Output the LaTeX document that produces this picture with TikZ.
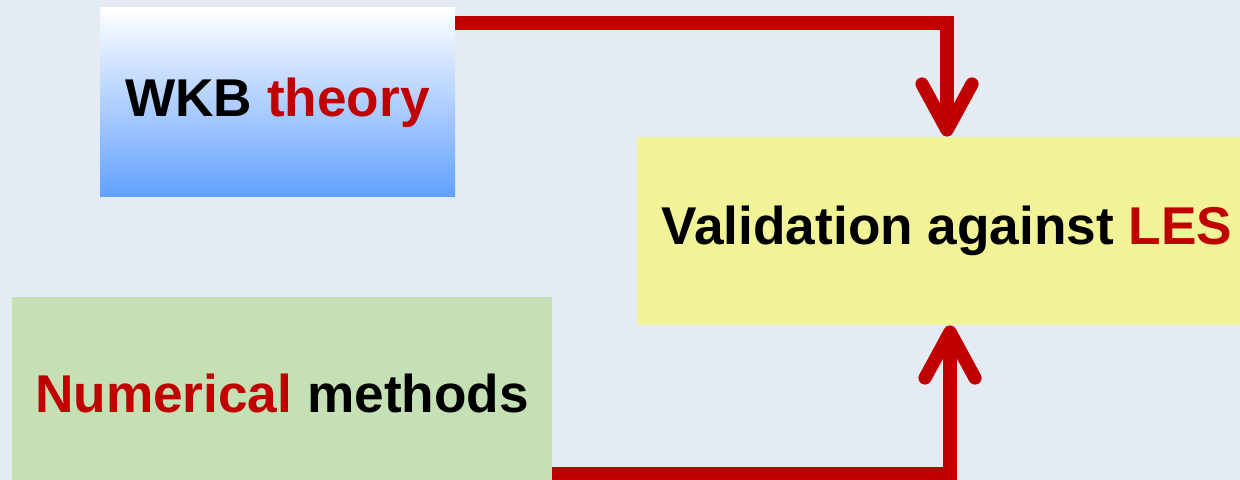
\documentclass[tikz,border=0pt]{standalone}
\usepackage{fontspec}
\setmainfont{Liberation Sans}
\usepackage{tikz}
\usetikzlibrary{arrows.meta}

\definecolor{slide}{HTML}{E4EBF3}
\definecolor{darkred}{HTML}{C00000}
\definecolor{lemon}{HTML}{F1F396}
\definecolor{sage}{HTML}{C5E0B4}
\definecolor{skyblue}{HTML}{62A0FF}

\begin{document}
\begin{tikzpicture}[x=0.5pt, y=-0.5pt,
    box text/.style={font=\bfseries\fontsize{26.6}{32}\selectfont, inner sep=0pt},
    theory box/.style={box text, minimum width=177.5pt, minimum height=94.5pt,
        top color=white, middle color=blue!10!skyblue!50!white, bottom color=skyblue},
    check box/.style={box text, fill=lemon, minimum width=310pt, minimum height=94pt},
    numeric box/.style={box text, fill=sage, minimum width=270pt, minimum height=96pt},
    link/.style={darkred, line width=6.6pt,
        -{Straight Barb[length=23pt, width=25pt, round]}}]
    \fill[slide] (0,0) rectangle (1240,480);
    \useasboundingbox (0,0) rectangle (1240,480);

    \node[theory box] (wkb) at (277.5,102.5) {WKB \textcolor{darkred}{theory}};
    \node[check box] (les) at (947,231) {Validation against \textcolor{darkred}{LES}};
    \node[numeric box] (num) at (282,393) {\textcolor{darkred}{Numerical} methods};

    % theory and numerics both feed the LES check
    \draw[link] ([yshift=-7.75pt]wkb.north east) -| (les.north);
    \draw[link] ([yshift=7.75pt]num.south east) -| ([xshift=1.5pt]les.south);
\end{tikzpicture}
\end{document}
